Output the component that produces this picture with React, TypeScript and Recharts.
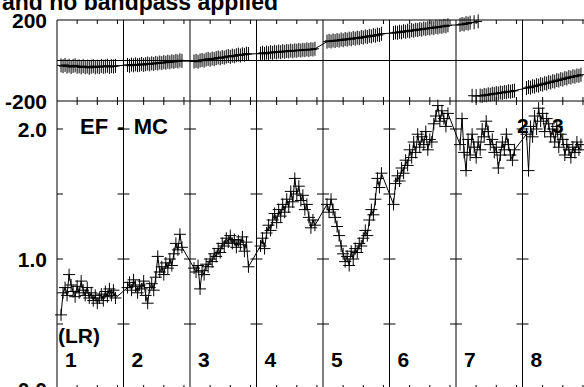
import React from "react";
import { ComposedChart, Line, XAxis, YAxis, ReferenceLine, Customized } from "recharts";

const FONT = '"Liberation Sans", Arial, Helvetica, sans-serif';

// spectral windows (IFs) shown side by side
const IF_NAMES = ["1", "2", "3", "4", "5", "6", "7", "8"];

// amplitude per channel, one list per IF
const AMP_IF1 = [0.57, 0.74, 0.78, 0.72, 0.88, 0.8, 0.75, 0.71, 0.79, 0.74, 0.83, 0.76, 0.72, 0.78, 0.7, 0.74, 0.68, 0.72, 0.66, 0.7, 0.73, 0.68, 0.75, 0.71, 0.77, 0.72, 0.76, 0.7];
const AMP_IF2 = [0.78, 0.82, 0.76, 0.84, 0.79, 0.74, 0.8, 0.77, 0.83, 0.72, 0.66, 0.78, 0.81, 0.76, 0.86, 1.02, 0.9, 0.94, 0.88, 0.97, 0.93, 1.0, 0.95, 1.04, 1.12, 1.07, 1.19, 1.09];
const AMP_IF3 = [0.93, 0.9, 0.95, 0.77, 0.91, 0.88, 0.96, 0.94, 1.0, 0.98, 1.04, 1.02, 1.08, 1.05, 1.12, 1.1, 1.16, 1.13, 1.18, 1.12, 1.15, 1.09, 1.14, 1.11, 1.17, 1.06, 1.13, 0.94];
const AMP_IF4 = [1.1, 1.16, 1.08, 1.2, 1.26, 1.22, 1.3, 1.35, 1.28, 1.38, 1.33, 1.42, 1.36, 1.46, 1.4, 1.52, 1.44, 1.62, 1.5, 1.56, 1.45, 1.49, 1.38, 1.42, 1.32, 1.24, 1.3, 1.26];
const AMP_IF5 = [1.42, 1.36, 1.46, 1.38, 1.32, 1.25, 1.18, 1.1, 1.04, 0.98, 1.02, 0.95, 1.06, 1.0, 1.08, 1.05, 1.12, 1.1, 1.16, 1.22, 1.18, 1.3, 1.38, 1.34, 1.46, 1.62, 1.55, 1.66];
const AMP_IF6 = [1.42, 1.58, 1.64, 1.6, 1.7, 1.66, 1.76, 1.72, 1.84, 1.78, 1.9, 1.82, 1.96, 1.86, 1.94, 1.88, 1.98, 1.84, 1.92, 1.9, 2.04, 2.1, 2.18, 2.06, 2.14, 2.08, 2.02, 2.12];
const AMP_IF7 = [1.88, 2.08, 1.82, 1.68, 1.92, 1.8, 1.96, 1.86, 1.78, 1.9, 1.84, 2.0, 1.94, 2.06, 1.98, 1.88, 1.92, 1.82, 1.86, 1.7, 1.8, 1.9, 1.84, 1.96, 1.88, 1.8, 1.76, 1.84];
const AMP_IF8 = [1.96, 1.68, 2.02, 1.94, 2.1, 2.0, 2.16, 2.06, 2.12, 1.98, 2.08, 2.04, 1.94, 2.0, 1.9, 2.02, 1.86, 1.96, 1.92, 1.8, 1.88, 1.84, 1.78, 1.86, 1.82, 1.9, 1.84, 1.88];

// phase (degrees) per channel, one list per IF
const PH_IF1 = [-24, -28, -22, -30, -26, -32, -27, -24, -31, -29, -34, -28, -33, -30, -36, -31, -28, -34, -30, -33, -27, -31, -29, -26, -32, -28, -30, -27];
const PH_IF2 = [-22, -26, -20, -24, -19, -23, -21, -17, -22, -18, -15, -19, -14, -17, -12, -15, -10, -13, -8, -11, -6, -9, -4, -7, -2, -5, 1, -2];
const PH_IF3 = [-5, -2, -6, 0, 3, -1, 5, 8, 4, 10, 7, 12, 15, 11, 17, 14, 19, 22, 18, 24, 21, 26, 29, 25, 31, 28, 34, 32];
const PH_IF4 = [34, 38, 33, 39, 36, 41, 38, 43, 40, 44, 41, 46, 43, 47, 45, 49, 46, 50, 48, 52, 49, 53, 51, 55, 52, 56, 54, 58];
const PH_IF5 = [93, 97, 94, 99, 96, 101, 98, 104, 100, 106, 103, 108, 105, 111, 108, 113, 110, 116, 113, 119, 116, 122, 119, 125, 122, 128, 126, 132];
const PH_IF6 = [136, 139, 137, 142, 139, 145, 142, 147, 144, 150, 147, 152, 150, 155, 152, 158, 155, 160, 158, 163, 160, 166, 163, 168, 166, 171, 169, 174];
const PH_IF7 = [176, 180, 178, 184, 182, 187, -174, 189, -176, 193, -173, -175, -170, -172, -167, -169, -164, -166, -161, -163, -158, -160, -155, -157, -152, -154, -151, -149];
const PH_IF8 = [-136, -131, -134, -127, -129, -122, -124, -117, -119, -112, -114, -107, -109, -102, -104, -97, -99, -92, -94, -87, -89, -82, -84, -78, -80, -74, -76, -70];

const PHASE_TICKS = [200, -200];
const AMP_TICKS = [0, 1, 2];
const AMP_MARKS = [0.5, 1, 1.5, 2];
const CHAN_TICKS = [10, 20, 30];

const AMP = [AMP_IF1, AMP_IF2, AMP_IF3, AMP_IF4, AMP_IF5, AMP_IF6, AMP_IF7, AMP_IF8];
const PHASE = [PH_IF1, PH_IF2, PH_IF3, PH_IF4, PH_IF5, PH_IF6, PH_IF7, PH_IF8];

// layout
const SPAN = 33; // axis units per IF panel
const FIRST = 2; // first plotted channel inside a panel
const X_MAX = SPAN * IF_NAMES.length;
const AMP_TOP = 2.2154;
const X_PER_PX = X_MAX / 532;
const PH_PER_PX = 400 / 81;
const AMP_PER_PX = 1 / 130;

const ampRows = AMP.flatMap((vals, i) =>
  vals.map((v, j) => ({ x: i * SPAN + FIRST + j, amp: v }))
);

// break the phase line where it wraps
const phRows: { x: number; ph: number | null }[] = [];
PHASE.forEach((vals, i) =>
  vals.forEach((v, j) => {
    const x = i * SPAN + FIRST + j;
    const prev = phRows[phRows.length - 1];
    if (prev && prev.ph !== null && Math.abs(v - prev.ph) > 180) {
      phRows.push({ x: x - 0.5, ph: null });
    }
    phRows.push({ x, ph: v });
  })
);

const bounds = IF_NAMES.map((_, i) => i * SPAN);
const chanTicks = bounds.flatMap((b) => CHAN_TICKS.map((t) => b + t));

const cross = (h: number, v: number) => (props: any) => {
  const { cx, cy, index } = props;
  if (cx == null || cy == null) return <g key={`c-${index}`} />;
  return (
    <path
      key={`c-${index}`}
      d={`M${cx - h},${cy}H${cx + h}M${cx},${cy - v}V${cy + v}`}
      stroke="#000"
      strokeWidth={1}
      fill="none"
    />
  );
};

const yTick = (fmt: (v: number) => string) => (props: any) => {
  const { y, payload } = props;
  return (
    <text
      key={`t-${payload.value}`}
      x={47}
      y={y + 8}
      textAnchor="end"
      fontSize={21}
      fontWeight="bold"
      fontFamily={FONT}
      fill="#000"
    >
      {fmt(payload.value)}
    </text>
  );
};

const boldText = {
  fontSize: 21,
  fontWeight: "bold" as const,
  fontFamily: FONT,
  fill: "#000",
};

const ifLabel = (name: string) => (props: any) => (
  <text x={props.viewBox.x + 8} y={367} {...boldText}>
    {name}
  </text>
);

export default function App() {
  return (
    <div
      style={{
        position: "fixed",
        left: 0,
        top: 0,
        width: 584,
        height: 387,
        overflow: "hidden",
        background: "#fff",
      }}
    >
      {/* phase panel */}
      <div style={{ position: "absolute", left: 0, top: 0 }}>
        <ComposedChart
          width={600}
          height={110}
          data={phRows}
          margin={{ top: 20, right: 11, bottom: 9, left: 0 }}
        >
          <XAxis type="number" dataKey="x" domain={[0, X_MAX]} hide />
          <YAxis
            type="number"
            domain={[-200, 200]}
            ticks={PHASE_TICKS}
            interval={0}
            width={57}
            axisLine={false}
            tickLine={false}
            tick={yTick((v) => String(v))}
          />
          <ReferenceLine y={200} stroke="#000" />
          <ReferenceLine y={0} stroke="#000" />
          <ReferenceLine y={-200} stroke="#000" />
          {bounds.map((b) => (
            <ReferenceLine key={`pb-${b}`} x={b} stroke="#000" />
          ))}
          {chanTicks.map((t) => (
            <ReferenceLine
              key={`pt-${t}`}
              segment={[{ x: t, y: 200 }, { x: t, y: 200 - 4 * PH_PER_PX }]}
              stroke="#000"
            />
          ))}
          {chanTicks.map((t) => (
            <ReferenceLine
              key={`pbt-${t}`}
              segment={[{ x: t, y: -200 }, { x: t, y: -200 + 4 * PH_PER_PX }]}
              stroke="#000"
            />
          ))}
          <Line
            dataKey="ph"
            stroke="#000"
            strokeWidth={1}
            dot={cross(4, 7)}
            activeDot={false}
            isAnimationActive={false}
          />
          <Customized
            component={() => (
              <text x={2} y={10} {...boldText} fontSize={23}>
                and no bandpass applied
              </text>
            )}
          />
        </ComposedChart>
      </div>

      {/* amplitude panel */}
      <div style={{ position: "absolute", left: 0, top: 0 }}>
        <ComposedChart
          width={600}
          height={400}
          data={ampRows}
          margin={{ top: 101, right: 11, bottom: 11, left: 0 }}
        >
          <XAxis type="number" dataKey="x" domain={[0, X_MAX]} hide />
          <YAxis
            type="number"
            domain={[0, AMP_TOP]}
            ticks={AMP_TICKS}
            interval={0}
            width={57}
            axisLine={false}
            tickLine={false}
            tick={yTick((v) => v.toFixed(1))}
          />
          {bounds.map((b, i) => (
            <ReferenceLine
              key={`ab-${b}`}
              x={b}
              stroke="#000"
              label={ifLabel(IF_NAMES[i])}
            />
          ))}
          {bounds.flatMap((b) =>
            AMP_MARKS.map((m) => (
              <ReferenceLine
                key={`am-${b}-${m}`}
                segment={[
                  { x: Math.max(0, b - 6 * X_PER_PX), y: m },
                  { x: b + 6 * X_PER_PX, y: m },
                ]}
                stroke="#000"
              />
            ))
          )}
          {chanTicks.map((t) => (
            <ReferenceLine
              key={`at-${t}`}
              segment={[{ x: t, y: AMP_TOP }, { x: t, y: AMP_TOP - 4 * AMP_PER_PX }]}
              stroke="#000"
            />
          ))}
          {chanTicks.map((t) => (
            <ReferenceLine
              key={`abt-${t}`}
              segment={[{ x: t, y: 0 }, { x: t, y: 4 * AMP_PER_PX }]}
              stroke="#000"
            />
          ))}
          <Line
            dataKey="amp"
            stroke="#000"
            strokeWidth={1}
            dot={cross(6, 6)}
            activeDot={false}
            isAnimationActive={false}
          />
          <Customized
            component={() => (
              <g>
                <text x={80} y={134} {...boldText} fontSize={22} wordSpacing={3}>
                  EF - MC
                </text>
                <text x={58} y={343} {...boldText}>
                  (LR)
                </text>
                <text x={517} y={133} {...boldText}>
                  2
                </text>
                <text x={552} y={133} {...boldText}>
                  3
                </text>
              </g>
            )}
          />
        </ComposedChart>
      </div>
    </div>
  );
}
